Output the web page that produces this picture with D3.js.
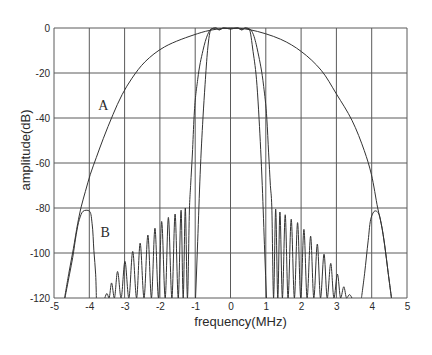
<!DOCTYPE html>
<html>
<head>
<meta charset="utf-8">
<script src="https://cdn.jsdelivr.net/npm/d3@7"></script>
<style>
  html, body { margin: 0; padding: 0; background: #ffffff; }
  svg { display: block; }
</style>
</head>
<body>
<svg id="chart" width="432" height="355"></svg>
<script>
// ---- data ----
const xTicks = [-5, -4, -3, -2, -1, 0, 1, 2, 3, 4, 5];
const yTicks = [0, -20, -40, -60, -80, -100, -120];
const xLabel = "frequency(MHz)";
const yLabel = "amplitude(dB)";

// curve A (wide response)
const aFreq = [-4.70, -4.58, -4.45, -4.33, -4.23, -4.11, -3.97, -3.80, -3.60, -3.33, -3.07, -2.79, -2.42, -1.87, -0.93, -0.50, 0.00, 0.56, 1.42, 2.01, 2.57, 3.00, 3.44, 3.79, 3.99, 4.17, 4.27, 4.37, 4.46, 4.56];
const aDb   = [-120, -109, -98, -87, -79.5, -72.6, -65, -57.5, -49, -38.5, -29.6, -22.3, -15, -8.4, -2.5, -0.8, 0, -0.8, -5.0, -10.5, -18.8, -29.3, -41.0, -54.5, -65, -80, -87, -96.8, -108, -120];

// curve B: pass band and outer skirts (ends at the first side-lobe peaks)
const bEdgeF  = [-1.16, -1.13, -1.08, -1.03, -0.93, -0.78, -0.65, -0.55, -0.42, -0.32, -0.20, 0.00, 0.20, 0.32, 0.42, 0.55, 0.65, 0.78, 0.94, 1.03, 1.08, 1.13, 1.17];
const bEdgeDb = [-79, -70, -56, -39, -23, -10, -3, -0.5, 0, -0.8, 0, -0.4, 0, -0.8, 0, -0.5, -3, -11, -26, -40.5, -55.5, -70, -79.5];

// curve B: side lobes, left side (peaks and nulls)
const lobePeakLF  = [-3.50, -3.37, -3.20, -2.99, -2.77, -2.56, -2.34, -2.14, -1.95, -1.76, -1.57, -1.40, -1.28];
const lobePeakLDb = [-118, -113.3, -108.2, -103.7, -99.3, -95.6, -92, -89, -86, -84.2, -82.7, -81, -80];
const lobeNullLF  = [-3.56, -3.44, -3.29, -3.10, -2.88, -2.66, -2.45, -2.24, -2.04, -1.85, -1.66, -1.48, -1.34, -1.22];

// curve B: side lobes, right side
const lobePeakRF  = [1.28, 1.40, 1.55, 1.72, 1.90, 2.08, 2.27, 2.46, 2.65, 2.84, 3.03, 3.21, 3.37];
const lobePeakRDb = [-80.5, -81.8, -83, -85, -86.5, -89.5, -92.5, -96, -100.5, -104.6, -109.4, -115, -118.5];
const lobeNullRF  = [1.22, 1.34, 1.47, 1.63, 1.81, 1.99, 2.17, 2.36, 2.55, 2.74, 2.93, 3.12, 3.29, 3.44];

const nullDb = -120;

// curve B: image lobes near +-4 MHz
const imgLF  = [-4.69, -4.56, -4.47, -4.37, -4.28, -4.18, -4.09, -3.99, -3.92, -3.87, -3.82, -3.80];
const imgLDb = [-120, -109.4, -102, -91.7, -85, -81.5, -81, -81.5, -87, -99, -109.4, -120];
const imgRF  = [3.71, 3.80, 3.90, 3.99, 4.09, 4.18, 4.27, 4.37, 4.46, 4.56];
const imgRDb = [-120, -109, -94.6, -84, -81.3, -82, -87, -96.8, -108, -120];

// inner (steeper) pass-band curve
const cFreq = [-0.99, -0.93, -0.86, -0.78, -0.72, -0.65, -0.55, -0.42, -0.32, -0.20, 0.00, 0.20, 0.32, 0.42, 0.53, 0.64, 0.75, 0.81, 0.90, 0.97, 1.02];
const cDb   = [-120, -95, -65, -40, -25, -10, -0.5, 0, -0.8, 0, -0.4, 0, -0.8, 0, -0.5, -10.5, -25.5, -40.5, -70, -100, -120];

// ---- drawing ----
const svg = d3.select("#chart");
const x = d3.scaleLinear().domain([-5, 5]).range([54, 407]);
const y = d3.scaleLinear().domain([-120, 0]).range([298, 28]);

const gridColor = "#5a5a5a";
const curveColor = "#333";
const textColor = "#2a2a2a";

// grid
svg.append("g").selectAll("line").data(xTicks).join("line")
  .attr("x1", d => x(d)).attr("x2", d => x(d))
  .attr("y1", y(0)).attr("y2", y(-120))
  .attr("stroke", gridColor).attr("stroke-width", 1);
svg.append("g").selectAll("line").data(yTicks).join("line")
  .attr("x1", x(-5)).attr("x2", x(5))
  .attr("y1", d => y(d)).attr("y2", d => y(d))
  .attr("stroke", gridColor).attr("stroke-width", 1);

// axes (labels only; lines come from the grid/frame)
const xAxis = d3.axisBottom(x).tickValues(xTicks).tickSize(0).tickPadding(5).tickFormat(d3.format("d"));
const yAxis = d3.axisLeft(y).tickValues(yTicks).tickSize(0).tickPadding(3).tickFormat(d3.format("d"));
const gx = svg.append("g").attr("transform", `translate(0,${y(-120)})`).call(xAxis);
const gy = svg.append("g").attr("transform", `translate(${x(-5) - 1},0)`).call(yAxis);
[gx, gy].forEach(g => {
  g.select(".domain").remove();
  g.selectAll("text").attr("font-family", "Liberation Sans, Arial, sans-serif")
    .attr("font-size", 10).attr("fill", textColor);
});
gx.selectAll("text").text(d => d < 0 ? "-" + Math.abs(d) : d);
gy.selectAll("text").text(d => d < 0 ? "-" + Math.abs(d) : d);

// curves
const smooth = d3.line().x(d => x(d[0])).y(d => y(d[1])).curve(d3.curveCatmullRom.alpha(0.5));
const mono = d3.line().x(d => x(d[0])).y(d => y(d[1])).curve(d3.curveMonotoneX);
const zip = (f, v) => f.map((d, i) => [d, v[i]]);

// build curve B
const bPts = [];
lobeNullLF.forEach((n, i) => {
  bPts.push([n, nullDb]);
  if (i < lobePeakLF.length) bPts.push([lobePeakLF[i], lobePeakLDb[i]]);
});
zip(bEdgeF, bEdgeDb).forEach(p => bPts.push(p));
lobeNullRF.forEach((n, i) => {
  bPts.push([n, nullDb]);
  if (i < lobePeakRF.length) bPts.push([lobePeakRF[i], lobePeakRDb[i]]);
});

const curves = [
  { pts: zip(aFreq, aDb), gen: smooth },
  { pts: bPts, gen: mono },
  { pts: zip(imgLF, imgLDb), gen: smooth },
  { pts: zip(imgRF, imgRDb), gen: smooth },
  { pts: zip(cFreq, cDb), gen: mono }
];
svg.append("g").selectAll("path").data(curves).join("path")
  .attr("d", d => d.gen(d.pts))
  .attr("fill", "none")
  .attr("stroke", curveColor)
  .attr("stroke-width", 1)
  .attr("stroke-linejoin", "round");

// curve labels
svg.append("text").attr("x", x(-3.6)).attr("y", y(-40) - 8)
  .attr("text-anchor", "middle")
  .attr("font-family", "Liberation Serif, Times New Roman, serif")
  .attr("font-size", 14).attr("fill", textColor).text("A");
svg.append("text").attr("x", x(-3.55)).attr("y", y(-90) + 6)
  .attr("text-anchor", "middle")
  .attr("font-family", "Liberation Serif, Times New Roman, serif")
  .attr("font-size", 14).attr("fill", textColor).text("B");

// axis titles
svg.append("text").attr("x", 240.5).attr("y", 326)
  .attr("text-anchor", "middle")
  .attr("font-family", "Liberation Sans, Arial, sans-serif")
  .attr("font-size", 13).attr("fill", textColor).text(xLabel);
svg.append("text").attr("transform", "translate(30,150) rotate(-90)")
  .attr("text-anchor", "middle")
  .attr("font-family", "Liberation Sans, Arial, sans-serif")
  .attr("font-size", 13).attr("fill", textColor).text(yLabel);
</script>
</body>
</html>
